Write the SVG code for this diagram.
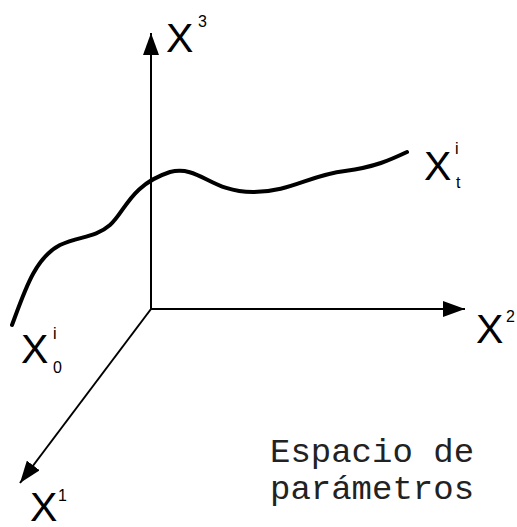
<svg xmlns="http://www.w3.org/2000/svg" width="517" height="527" viewBox="0 0 517 527">
<style>
.axis{stroke:#000;stroke-width:2;fill:none}
.curve{stroke:#000;stroke-width:4;fill:none;stroke-linecap:round}
.lbl{font-family:"Liberation Sans",Arial,sans-serif;fill:#000}
.big{font-size:41px}
.sm{font-size:16px}
.mono{font-family:"Liberation Mono","Courier New",monospace;font-size:34px;fill:#222}
</style>
<defs>
<marker id="ah" markerUnits="userSpaceOnUse" markerWidth="24" markerHeight="16" refX="22" refY="8" orient="auto" viewBox="0 0 24 16">
<path d="M0,0 L22,8 L0,16 Z" fill="#000"/>
</marker>
</defs>
<rect width="517" height="527" fill="#fff"/>
<g id="connectors">
<line class="axis" x1="151" y1="310" x2="151" y2="33" marker-end="url(#ah)"/>
<line class="axis" x1="150" y1="309" x2="465" y2="309" marker-end="url(#ah)"/>
<line class="axis" x1="151" y1="309" x2="20" y2="483" marker-end="url(#ah)"/>
</g>
<g id="curve">
<path class="curve" d="M12,325 C25,290 35,258 60,245 C80,236 95,238 110,225 C125,212 130,185 170,172 C200,165 210,192 253,192 C290,192 310,175 345,171 C375,167 390,160 407,152"/>
</g>
<g id="label-x3"><text class="lbl big" x="166" y="52">X</text><text class="lbl sm" x="198" y="27">3</text></g>
<g id="label-x2"><text class="lbl big" x="476" y="343">X</text><text class="lbl sm" x="506" y="322">2</text></g>
<g id="label-x1"><text class="lbl big" x="30" y="521">X</text><text class="lbl sm" x="58" y="501">1</text></g>
<g id="label-xt"><text class="lbl big" x="424" y="180">X</text><text class="lbl sm" x="455" y="154">i</text><text class="lbl sm" x="456" y="188">t</text></g>
<g id="label-x0"><text class="lbl big" x="21" y="363">X</text><text class="lbl sm" x="53" y="339">i</text><text class="lbl sm" x="53" y="373">0</text></g>
<g id="caption"><text class="mono" x="270" y="462">Espacio de</text><text class="mono" x="270" y="499">parámetros</text></g>
</svg>
